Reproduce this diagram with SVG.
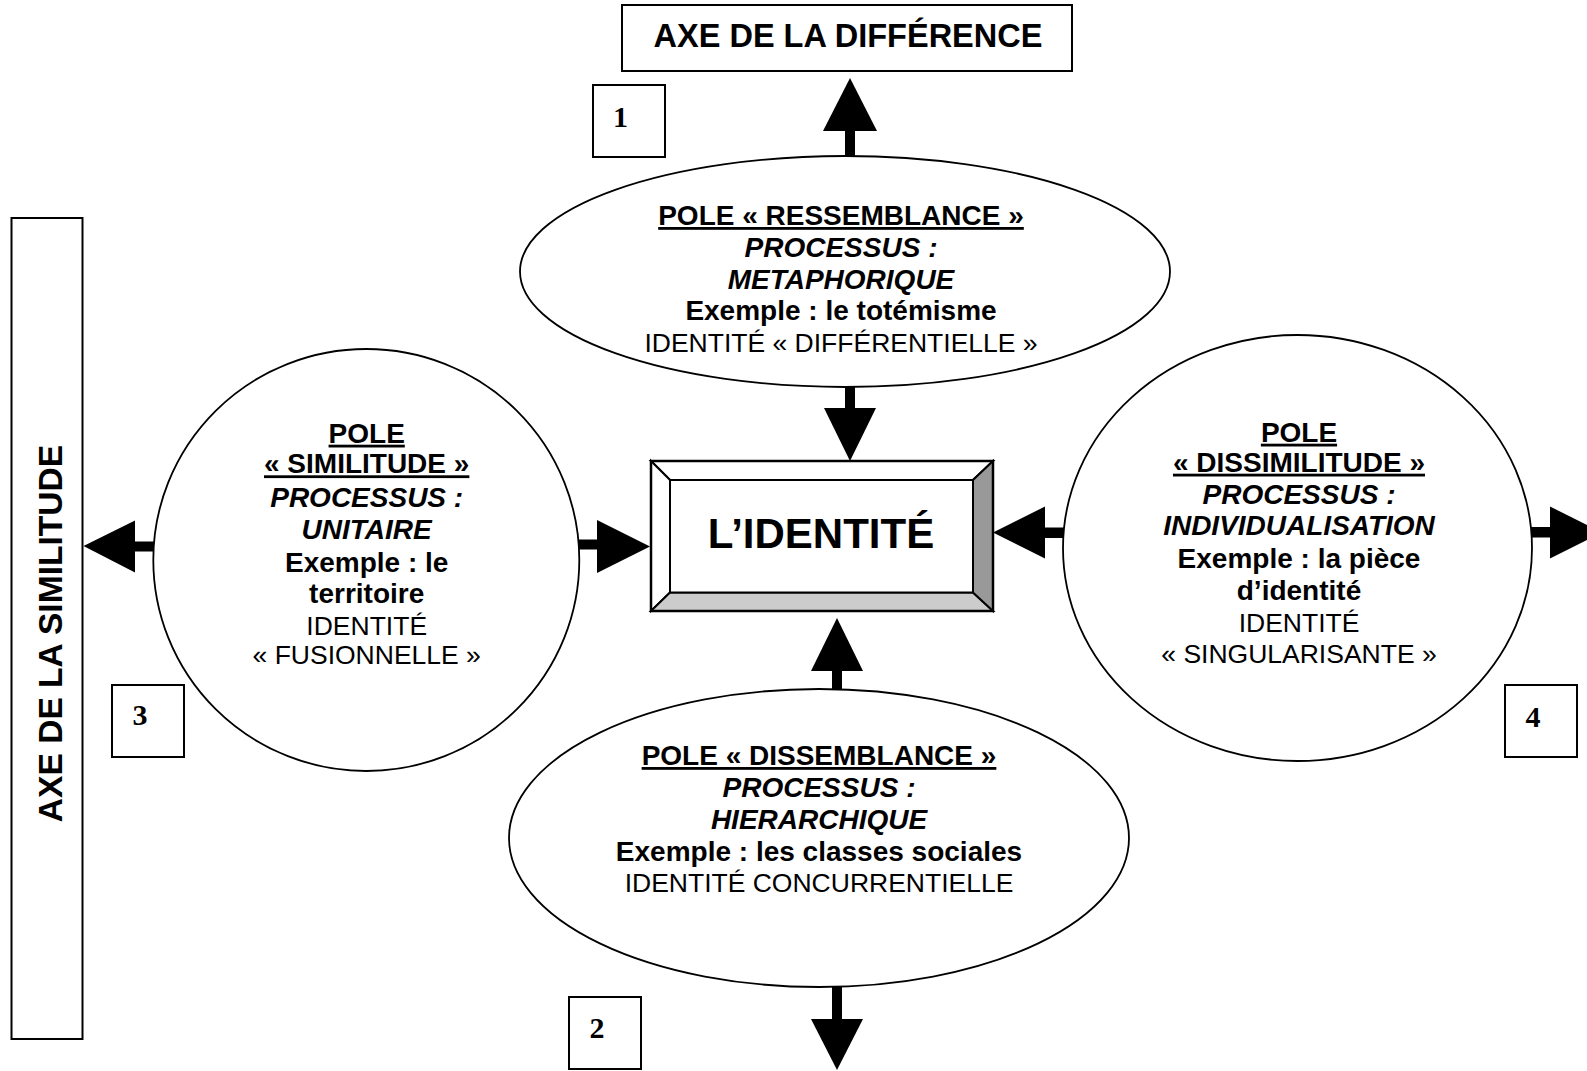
<svg xmlns="http://www.w3.org/2000/svg" width="1587" height="1071" viewBox="0 0 1587 1071">
<style>
text{font-family:"Liberation Sans",Arial,sans-serif;fill:#000;text-anchor:middle}
.b{font-weight:bold;font-size:28px}
.bi{font-weight:bold;font-style:italic;font-size:28px}
.r{font-size:26.5px}
.u{text-decoration:underline}
.num{font-family:"Liberation Serif","Times New Roman",serif;font-weight:bold;font-size:30px}
.box{fill:#fff;stroke:#000;stroke-width:2}
.ell{fill:#fff;stroke:#000;stroke-width:1.8}
.arr{fill:#000;stroke:none}
</style>
<rect width="1587" height="1071" fill="#fff"/>

<g id="axe-difference">
<rect class="box" x="622" y="5" width="450" height="66"/>
<text class="b" x="848" y="47" style="font-size:32.5px">AXE DE LA DIFFÉRENCE</text>
</g>

<g id="axe-similitude">
<rect class="box" x="11.5" y="218" width="71" height="821"/>
<text class="b" transform="translate(61.5,633.5) rotate(-90)" style="font-size:33.6px">AXE DE LA SIMILITUDE</text>
</g>

<g id="label-1"><rect class="box" x="593" y="85" width="72" height="72"/><text class="num" x="620.5" y="127">1</text></g>
<g id="label-2"><rect class="box" x="569" y="997" width="72" height="72"/><text class="num" x="597" y="1038">2</text></g>
<g id="label-3"><rect class="box" x="112" y="685" width="72" height="72"/><text class="num" x="140" y="725">3</text></g>
<g id="label-4"><rect class="box" x="1505" y="685" width="72" height="72"/><text class="num" x="1533" y="727">4</text></g>

<g id="connectors">
<rect class="arr" x="845" y="129" width="10" height="28"/>
<polygon class="arr" points="823,131 877,131 850,78"/>
<rect class="arr" x="845" y="386" width="10" height="24"/>
<polygon class="arr" points="824,408 876,408 850,461"/>
<rect class="arr" x="578" y="539.5" width="21" height="10"/>
<polygon class="arr" points="597,520 597,573 650,546.5"/>
<rect class="arr" x="133" y="541.5" width="21" height="10"/>
<polygon class="arr" points="135,520.5 135,572.5 83.5,546"/>
<rect class="arr" x="1043" y="527.5" width="21" height="10.5"/>
<polygon class="arr" points="1045,506.5 1045,558.5 993,532.5"/>
<rect class="arr" x="1531" y="527" width="21" height="10.5"/>
<polygon class="arr" points="1550,506.5 1550,558.5 1602,532.5"/>
<rect class="arr" x="832" y="669" width="10" height="22"/>
<polygon class="arr" points="811,671 863,671 837,618"/>
<rect class="arr" x="832" y="985" width="10" height="36"/>
<polygon class="arr" points="811,1019 863,1019 837,1070"/>
</g>

<g id="pole-ressemblance">
<ellipse class="ell" cx="845" cy="271.5" rx="325" ry="115.5"/>
<text class="b u" x="841" y="225">POLE « RESSEMBLANCE »</text>
<text class="bi" x="841" y="256.5">PROCESSUS :</text>
<text class="bi" x="841" y="288.5">METAPHORIQUE</text>
<text class="b" x="841" y="320">Exemple : le totémisme</text>
<text class="r" x="841" y="351.5">IDENTITÉ « DIFFÉRENTIELLE »</text>
</g>

<g id="pole-similitude">
<ellipse class="ell" cx="366.3" cy="560" rx="213" ry="211"/>
<text class="b u" x="366.7" y="442.7">POLE</text>
<text class="b u" x="366.7" y="473.3">« SIMILITUDE »</text>
<text class="bi" x="366.7" y="506.7">PROCESSUS :</text>
<text class="bi" x="366.7" y="539">UNITAIRE</text>
<text class="b" x="366.7" y="571.7">Exemple : le</text>
<text class="b" x="366.7" y="603.3">territoire</text>
<text class="r" x="366.7" y="635">IDENTITÉ</text>
<text class="r" x="366.7" y="664.3">« FUSIONNELLE »</text>
</g>

<g id="pole-dissimilitude">
<ellipse class="ell" cx="1297.5" cy="548" rx="234.5" ry="213"/>
<text class="b u" x="1299" y="441.7">POLE</text>
<text class="b u" x="1299" y="471.7">« DISSIMILITUDE »</text>
<text class="bi" x="1299" y="504">PROCESSUS :</text>
<text class="bi" x="1299" y="535">INDIVIDUALISATION</text>
<text class="b" x="1299" y="568.3">Exemple : la pièce</text>
<text class="b" x="1299" y="600">d’identité</text>
<text class="r" x="1299" y="631.7">IDENTITÉ</text>
<text class="r" x="1299" y="662.7">« SINGULARISANTE »</text>
</g>

<g id="pole-dissemblance">
<ellipse class="ell" cx="819" cy="838" rx="310" ry="149"/>
<text class="b u" x="819" y="765">POLE « DISSEMBLANCE »</text>
<text class="bi" x="819" y="797">PROCESSUS :</text>
<text class="bi" x="819" y="829">HIERARCHIQUE</text>
<text class="b" x="819" y="861">Exemple : les classes sociales</text>
<text class="r" x="819" y="892">IDENTITÉ CONCURRENTIELLE</text>
</g>

<g id="identite">
<rect x="651" y="461" width="342" height="150" fill="#fff" stroke="none"/>
<polygon points="651,461 993,461 973,480 670,480" fill="#fff" stroke="#000" stroke-width="2"/>
<polygon points="651,461 670,480 670,592.5 651,611" fill="#fff" stroke="#000" stroke-width="2"/>
<polygon points="651,611 670,592.5 973,592.5 993,611" fill="#cccccc" stroke="#000" stroke-width="2"/>
<polygon points="993,461 973,480 973,592.5 993,611" fill="#999999" stroke="#000" stroke-width="2"/>
<rect x="670" y="480" width="303" height="112.5" fill="#fff" stroke="#000" stroke-width="2"/>
<rect x="651" y="461" width="342" height="150" fill="none" stroke="#000" stroke-width="2.5"/>
<text class="b" x="821" y="548" style="font-size:42px">L’IDENTITÉ</text>
</g>
</svg>
